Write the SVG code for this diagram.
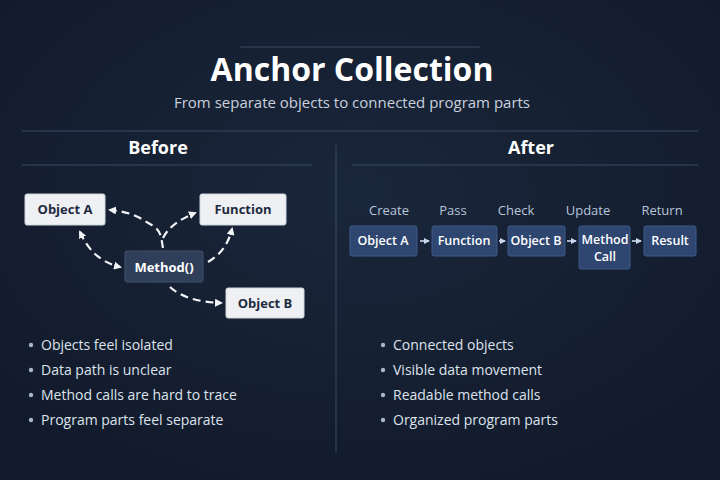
<svg xmlns="http://www.w3.org/2000/svg" width="720" height="480" viewBox="0 0 720 480">
<defs>
<marker id="ah" markerWidth="8" markerHeight="8" refX="6" refY="4" orient="auto" markerUnits="userSpaceOnUse"><path d="M0,0 L8,4 L0,8 Z" fill="#f2f4f7"/></marker>
<marker id="sa" markerWidth="6" markerHeight="6" refX="5" refY="3" orient="auto" markerUnits="userSpaceOnUse"><path d="M0,0 L6,3 L0,6 Z" fill="#c9d8ee"/></marker>
<radialGradient id="bg" cx="50%" cy="40%" r="70%"><stop offset="0" stop-color="#1a263b"/><stop offset="1" stop-color="#111a2a"/></radialGradient>
</defs>
<style>
text{font-family:"Open Sans","Noto Sans","DejaVu Sans",sans-serif}
.lite{fill:#eef0f3;stroke:#cfd5de}
.lt{fill:#1e2a3e;font-size:13px;font-weight:700;text-anchor:middle}
.dk{fill:#2f3f5a;stroke:#42536f}
.wt{fill:#ffffff;font-size:13px;font-weight:700;text-anchor:middle}
.ws{fill:#ffffff;font-size:12.5px;font-weight:600;text-anchor:middle}
.blue{fill:#2e4670;stroke:#3d5a88}
.step{fill:#b9c6da;font-size:13px;text-anchor:middle}
.dash{fill:none;stroke:#f2f4f7;stroke-width:2.2;stroke-dasharray:8 5;marker-end:url(#ah)}
.sa{stroke:#c9d8ee;stroke-width:1.6;marker-end:url(#sa)}
.rule{stroke:#3a4a63;stroke-width:1}
.bul{fill:#dde3ec;font-size:14px}
.dot{fill:#aab6c8}
</style>
<rect width="720" height="480" fill="url(#bg)"/>
<line x1="240" y1="47" x2="480" y2="47" class="rule"/>
<text x="352" y="81" font-size="32" font-weight="700" fill="#ffffff" text-anchor="middle">Anchor Collection</text>
<text x="352" y="108" font-size="15" fill="#c9d1dd" text-anchor="middle">From separate objects to connected program parts</text>
<line x1="22" y1="131" x2="698" y2="131" class="rule"/>
<line x1="336" y1="145" x2="336" y2="452" class="rule"/>
<text x="158" y="154" font-size="18" font-weight="700" fill="#ffffff" text-anchor="middle">Before</text>
<line x1="22" y1="165" x2="312" y2="165" class="rule"/>
<text x="531" y="154" font-size="18" font-weight="700" fill="#ffffff" text-anchor="middle">After</text>
<line x1="352" y1="165" x2="698" y2="165" class="rule"/>

<g id="connectors">
<path class="dash" d="M163,248 C161,238 162,230 150,224 L140,218 C130,213 122,211 110,210"/>
<path class="dash" d="M163,238 C168,228 178,220 195,213"/>
<path class="dash" d="M80,232 C88,250 100,262 120,267"/>
<path class="dash" d="M82,236 L80,232"/>
<path class="dash" d="M208,262 C220,255 228,245 232,229"/>
<path class="dash" d="M170,287 C182,298 200,302 221,303"/>
<line class="sa" x1="420" y1="241" x2="429" y2="241"/>
<line class="sa" x1="499" y1="241" x2="505" y2="241"/>
<line class="sa" x1="567" y1="241" x2="576" y2="241"/>
<line class="sa" x1="632" y1="241" x2="641" y2="241"/>
</g>

<g id="b-objA"><rect class="lite" x="25" y="194" width="80" height="31" rx="2"/><text class="lt" x="65" y="214">Object A</text></g>
<g id="b-func"><rect class="lite" x="200" y="194" width="86" height="31" rx="2"/><text class="lt" x="243" y="214">Function</text></g>
<g id="b-method"><rect class="dk" x="125" y="251" width="78" height="31" rx="2"/><text class="wt" x="164" y="272">Method()</text></g>
<g id="b-objB"><rect class="lite" x="226" y="288" width="78" height="30" rx="2"/><text class="lt" x="265" y="308">Object B</text></g>

<text class="step" x="389" y="215">Create</text>
<text class="step" x="453" y="215">Pass</text>
<text class="step" x="516" y="215">Check</text>
<text class="step" x="588" y="215">Update</text>
<text class="step" x="662" y="215">Return</text>
<g id="a-objA"><rect class="blue" x="350" y="226" width="67" height="30" rx="2"/><text class="ws" x="383" y="245">Object A</text></g>
<g id="a-func"><rect class="blue" x="432" y="226" width="65" height="30" rx="2"/><text class="ws" x="464" y="245">Function</text></g>
<g id="a-objB"><rect class="blue" x="508" y="226" width="57" height="30" rx="2"/><text class="ws" x="536" y="245">Object B</text></g>
<g id="a-method"><rect class="blue" x="579" y="226" width="51" height="43" rx="2"/><text class="ws" x="605" y="244">Method</text><text class="ws" x="605" y="261">Call</text></g>
<g id="a-result"><rect class="blue" x="644" y="226" width="52" height="30" rx="2"/><text class="ws" x="670" y="245">Result</text></g>

<g>
<circle class="dot" cx="31" cy="345" r="2.2"/><text class="bul" x="41" y="350">Objects feel isolated</text>
<circle class="dot" cx="31" cy="370" r="2.2"/><text class="bul" x="41" y="375">Data path is unclear</text>
<circle class="dot" cx="31" cy="395" r="2.2"/><text class="bul" x="41" y="400">Method calls are hard to trace</text>
<circle class="dot" cx="31" cy="420" r="2.2"/><text class="bul" x="41" y="425">Program parts feel separate</text>
<circle class="dot" cx="383" cy="345" r="2.2"/><text class="bul" x="393" y="350">Connected objects</text>
<circle class="dot" cx="383" cy="370" r="2.2"/><text class="bul" x="393" y="375">Visible data movement</text>
<circle class="dot" cx="383" cy="395" r="2.2"/><text class="bul" x="393" y="400">Readable method calls</text>
<circle class="dot" cx="383" cy="420" r="2.2"/><text class="bul" x="393" y="425">Organized program parts</text>
</g>
</svg>
